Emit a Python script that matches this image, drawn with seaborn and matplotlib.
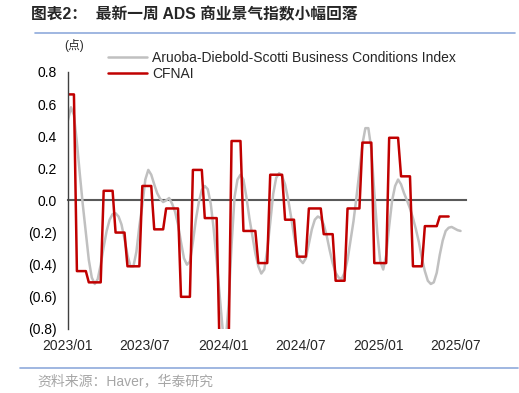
import pandas as pd
import numpy as np
import matplotlib
matplotlib.use('Agg')
import matplotlib.pyplot as plt
import matplotlib.dates as mdates
from matplotlib.ticker import FuncFormatter
from matplotlib.lines import Line2D
import seaborn as sns

sns.set_style('white')
plt.rcParams['font.family'] = ['Liberation Sans', 'Noto Sans CJK SC', 'DejaVu Sans']

# ADS index, weekly readings starting 2023-01-01
ads_start = '2023-01-01'
ads_values = [
    0.50, 0.58, 0.53, 0.36, 0.16, -0.03, -0.20, -0.37, -0.48, -0.52,
    -0.49, -0.40, -0.29, -0.19, -0.12, -0.085, -0.08, -0.10, -0.15, -0.24,
    -0.34, -0.41, -0.41, -0.32, -0.16, -0.03, 0.13, 0.19, 0.16, 0.10,
    0.045, 0.01, -0.01, 0.0, 0.015, -0.02, -0.07, -0.15, -0.26, -0.36,
    -0.40, -0.38, -0.26, -0.12, -0.01, 0.065, 0.09, 0.07, -0.02, -0.18,
    -0.38, -0.59, -0.80, -0.88, -0.65, -0.28, 0.02, 0.13, 0.16, 0.13,
    0.02, -0.11, -0.22, -0.33, -0.41, -0.455, -0.43, -0.31, -0.14, 0.04,
    0.14, 0.17, 0.15, 0.10, 0.01, -0.10, -0.22, -0.32, -0.37, -0.39,
    -0.36, -0.27, -0.18, -0.12, -0.10, -0.11, -0.15, -0.22, -0.31, -0.39,
    -0.45, -0.48, -0.49, -0.45, -0.37, -0.25, -0.13, 0.02, 0.18, 0.35,
    0.45, 0.45, 0.32, 0.05, -0.20, -0.38, -0.43, -0.34, -0.16, 0.0,
    0.09, 0.13, 0.10, 0.045, 0.0, -0.05, -0.11, -0.18, -0.26, -0.36,
    -0.44, -0.50, -0.52, -0.51, -0.45, -0.34, -0.25, -0.19, -0.17, -0.165,
    -0.175, -0.185, -0.19,
]

# CFNAI, value switches on the week it is released
cfnai_dates = [
    '2023-01-01', '2023-01-22', '2023-02-19', '2023-03-26', '2023-04-23',
    '2023-05-21', '2023-06-25', '2023-07-23', '2023-08-20', '2023-09-24',
    '2023-10-22', '2023-11-19', '2023-12-24', '2024-01-21', '2024-02-18',
    '2024-03-24', '2024-04-21', '2024-05-26', '2024-06-23', '2024-07-21',
    '2024-08-25', '2024-09-22', '2024-10-20', '2024-11-24', '2024-12-22',
    '2025-01-26', '2025-02-23', '2025-03-23', '2025-04-20', '2025-05-25',
]
cfnai_values = [
    0.66, -0.44, -0.51, 0.06, -0.20, -0.41, 0.09, -0.18, -0.05, -0.60,
    0.19, -0.11, -0.95, 0.37, -0.19, -0.39, 0.16, -0.12, -0.35, -0.05,
    -0.21, -0.50, -0.05, 0.36, -0.39, 0.39, 0.15, -0.41, -0.16, -0.10,
]
cfnai_last = '2025-06-15'

tick_dates = ['2023-01-01', '2023-07-01', '2024-01-01', '2024-07-01', '2025-01-01', '2025-07-01']
tick_labels = ['2023/01', '2023/07', '2024/01', '2024/07', '2025/01', '2025/07']

# build weekly frames
weeks = pd.date_range(ads_start, periods=len(ads_values), freq='7D')
ads = pd.DataFrame({'date': weeks, 'value': ads_values})

cf_weeks = weeks[weeks <= pd.Timestamp(cfnai_last)]
idx = np.searchsorted(pd.to_datetime(cfnai_dates), cf_weeks, side='right') - 1
cfnai = pd.DataFrame({'date': cf_weeks, 'value': np.array(cfnai_values)[idx]})

fig = plt.figure(figsize=(5.19, 3.93), dpi=100)
ax = fig.add_axes([0.131, 0.163, 0.767, 0.654])

sns.lineplot(data=ads, x='date', y='value', ax=ax, color='#c0c0c0', lw=1.8,
             label='Aruoba-Diebold-Scotti Business Conditions Index')
sns.lineplot(data=cfnai, x='date', y='value', ax=ax, color='#c00000', lw=1.8,
             label='CFNAI')

ax.set_ylim(-0.8, 0.8)
ax.set_xlim(pd.Timestamp('2023-01-01'), pd.Timestamp('2025-07-26'))
ax.set_yticks(np.arange(-0.8, 0.81, 0.2))
ax.yaxis.set_major_formatter(FuncFormatter(
    lambda v, p: f'({abs(v):.1f})' if v < -1e-9 else f'{abs(v):.1f}'))
ax.set_xlabel('')
ax.set_ylabel('')

for s in ['top', 'right']:
    ax.spines[s].set_visible(False)
ax.spines['left'].set_color('#404040')
ax.spines['left'].set_linewidth(1.0)
ax.spines['bottom'].set_position(('data', 0))
ax.spines['bottom'].set_color('#595959')
ax.spines['bottom'].set_linewidth(1.5)
ax.spines['bottom'].set_zorder(1)

tick_nums = mdates.date2num(pd.to_datetime(tick_dates))
ax.set_xticks(tick_nums)
ax.tick_params(axis='x', labelbottom=False, direction='out', length=3, width=1, color='#404040')
ax.tick_params(axis='y', direction='out', length=3, width=1, color='#404040',
               labelsize=10, pad=5, labelcolor='black')

sec = ax.secondary_xaxis('bottom')
sec.set_xticks(tick_nums, tick_labels)
sec.tick_params(length=0, pad=7, labelsize=10)
sec.spines['bottom'].set_visible(False)

leg = ax.legend(loc='upper left', bbox_to_anchor=(108 / 519, 1 - 51 / 393),
                bbox_transform=fig.transFigure, frameon=False, fontsize=10,
                handlelength=2.8, handletextpad=0.4, labelspacing=0.15,
                borderpad=0, borderaxespad=0)

fig.text(31 / 519, 1 - 15 / 393, '图表2：  最新一周 ADS 商业景气指数小幅回落',
         fontsize=11.3, fontweight='bold', va='center', ha='left')
fig.add_artist(Line2D([35 / 519, 515 / 519], [1 - 33 / 393, 1 - 33 / 393],
                      color='#8faadc', lw=1.2))
fig.text(64 / 519, 1 - 45 / 393, '(点)', fontsize=8.5, va='center', ha='left')
fig.add_artist(Line2D([20 / 519, 518 / 519], [1 - 368 / 393, 1 - 368 / 393],
                      color='#8faadc', lw=1.2))
fig.text(37 / 519, 1 - 381 / 393, '资料来源：Haver，华泰研究', fontsize=10,
         color='#a6a6a6', va='center', ha='left')

fig.savefig('out.png', dpi=100)
